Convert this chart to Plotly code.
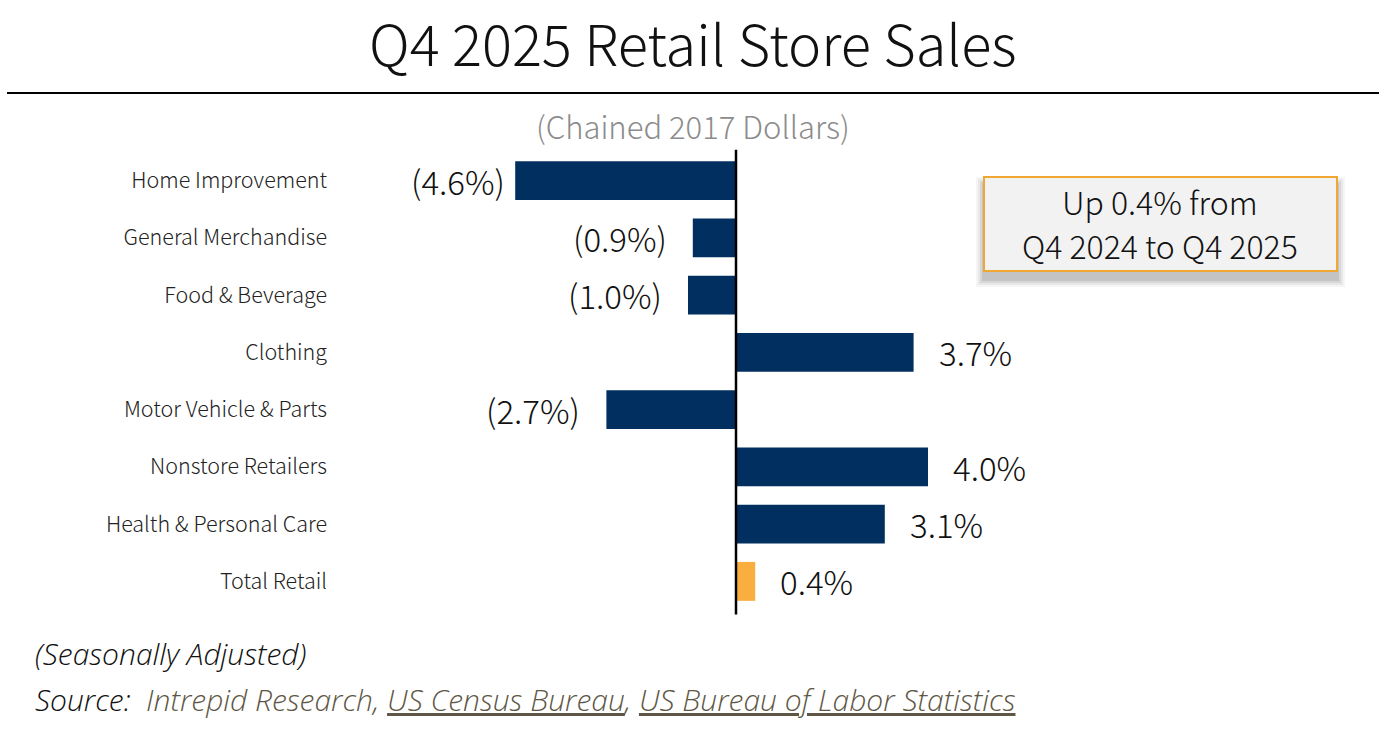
import plotly.graph_objects as go

categories = ["Home Improvement", "General Merchandise", "Food & Beverage", "Clothing",
              "Motor Vehicle & Parts", "Nonstore Retailers", "Health & Personal Care", "Total Retail"]
values = [-4.6, -0.9, -1.0, 3.7, -2.7, 4.0, 3.1, 0.4]
bar_colors = ["#012f5f"] * 7 + ["#f9ae3f"]
label_gap = [8, 24, 24, 23, 24, 23, 23, 23]


def fmt(v):
    return f"({abs(v):.1f}%)" if v < 0 else f"{v:.1f}%"


labels = [fmt(v) for v in values]

FONT = "Noto Sans CJK JP"
W, H = 1379, 739
L, R, T, B = 340, 0, 152, 129

fig = go.Figure()
fig.add_trace(go.Bar(
    y=categories, x=values, orientation="h",
    marker=dict(color=bar_colors, line=dict(width=0)),
    width=0.68,
    hoverinfo="skip",
))

for c, v, t, g in zip(categories, values, labels, label_gap):
    fig.add_annotation(x=v, y=c, xref="x", yref="y", text=t, showarrow=False,
                       xanchor="right" if v < 0 else "left",
                       xshift=-g if v < 0 else g, yshift=0,
                       font=dict(family=FONT, size=33, color="#111111", weight=300))

fig.update_layout(
    width=W, height=H,
    margin=dict(l=L, r=R, t=T, b=B),
    paper_bgcolor="white", plot_bgcolor="white",
    showlegend=False,
    font=dict(family=FONT),
    xaxis=dict(range=[-8.25, 13.396], visible=False, showgrid=False, zeroline=False),
    yaxis=dict(autorange=False, range=[7.5, -0.5], showgrid=False, zeroline=False,
               ticks="", ticklabelstandoff=12,
               tickfont=dict(family=FONT, size=21.5, color="#222222", weight=300)),
    bargap=0.3,
)

# zero line
fig.add_shape(type="line", xref="x", yref="paper", x0=0, x1=0, y0=-0.01, y1=1.005,
              line=dict(color="black", width=2.5))


def px_x(x):
    return (x - L) / (W - L - R)


def px_y(y):
    return (H - B - y) / (H - T - B)


# title rule
fig.add_shape(type="line", xref="paper", yref="paper",
              x0=px_x(7), x1=1.0, y0=px_y(93), y1=px_y(93),
              line=dict(color="black", width=2))

# title
fig.add_annotation(xref="paper", yref="paper", x=px_x(693), y=px_y(41), text="Q4 2025 Retail Store Sales",
                   showarrow=False, xanchor="center", yanchor="middle",
                   font=dict(family=FONT, size=56, color="#111111", weight=300))
fig.add_annotation(xref="paper", yref="paper", x=px_x(693), y=px_y(125), text="(Chained 2017 Dollars)",
                   showarrow=False, xanchor="center", yanchor="middle",
                   font=dict(family=FONT, size=31, color="#8c8c8c", weight=300))

# callout shadow
for i, op in enumerate([0.04, 0.05, 0.07, 0.09]):
    d = 8 - 2 * i
    fig.add_shape(type="rect", xref="paper", yref="paper",
                  x0=px_x(984 - d), x1=px_x(1337 + d), y0=px_y(271 + 8 + d), y1=px_y(177 + 8 - d),
                  line=dict(width=0), fillcolor=f"rgba(0,0,0,{op})", layer="above")
fig.add_shape(type="rect", xref="paper", yref="paper",
              x0=px_x(984), x1=px_x(1337), y0=px_y(271), y1=px_y(177),
              line=dict(color="#f0a832", width=2), fillcolor="#f2f2f2", layer="above")
for txt, yy in [("Up 0.4% from", 201), ("Q4 2024 to Q4 2025", 245)]:
    fig.add_annotation(xref="paper", yref="paper", x=px_x(1160), y=px_y(yy), text=txt,
                       showarrow=False, xanchor="center", yanchor="middle",
                       font=dict(family=FONT, size=32, color="#111111", weight=300))

# footer
FOOT = "Open Sans, Roboto, sans-serif"
fig.add_annotation(xref="paper", yref="paper", x=px_x(33), y=px_y(653), text="<i>(Seasonally Adjusted)</i>",
                   showarrow=False, xanchor="left", yanchor="middle",
                   font=dict(family=FOOT, size=30, color="#111111", weight=300))
src_col = "#5e5745"
fig.add_annotation(xref="paper", yref="paper", x=px_x(33), y=px_y(699),
                   text=("<i>Source:  <span style='color:%s'>Intrepid Research, <u>US Census Bureau</u>, "
                         "<u>US Bureau of Labor Statistics</u></span></i>") % src_col,
                   showarrow=False, xanchor="left", yanchor="middle",
                   font=dict(family=FOOT, size=30, color="#111111", weight=300))

fig.write_html("out.html")
